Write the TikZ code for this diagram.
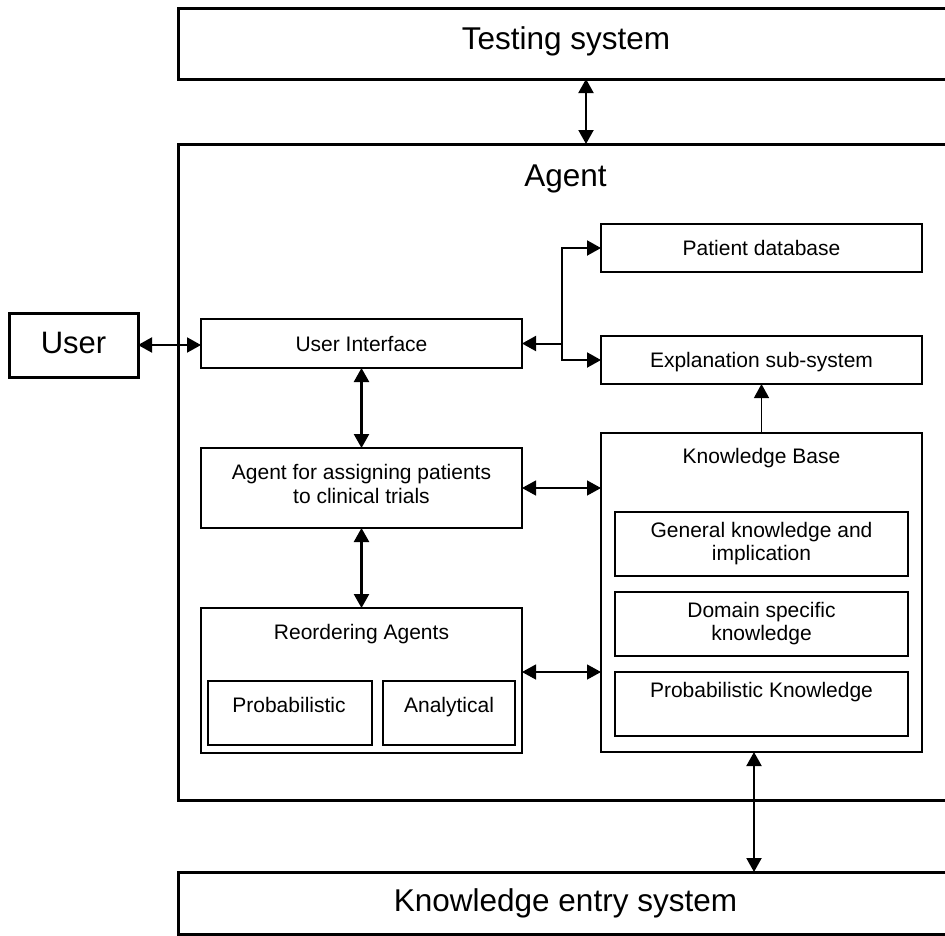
\documentclass[tikz,border=0pt]{standalone}
\usepackage{fontspec}
\setmainfont{Liberation Sans}
\usetikzlibrary{arrows.meta}
\tikzset{
  >={Triangle[length=14pt,width=15pt]},
  bigbox/.style={draw, line width=3pt, inner sep=0pt, outer sep=0pt},
  midbox/.style={draw, line width=2.6pt, inner sep=0pt, outer sep=0pt,
    font=\fontsize{21}{23}\selectfont, text height=15pt, text depth=0pt},
  subbox/.style={draw, line width=1.6pt, inner sep=0pt, outer sep=0pt},
  bigtext/.style={anchor=base, inner sep=0pt, font=\fontsize{31.5}{36}\selectfont},
  smalltext/.style={anchor=base, inner sep=0pt, font=\fontsize{21}{23}\selectfont},
  twoline/.style={anchor=base, inner sep=0pt, font=\fontsize{21}{#1}\selectfont},
  heavyconn/.style={line width=2.4pt},
  midconn/.style={line width=2pt},
  lightconn/.style={line width=1.3pt},
}
\begin{document}
\begin{tikzpicture}[x=1pt, y=-1pt]
\useasboundingbox (0,0) rectangle (945,935);

% outer boxes
\node[bigbox, minimum width=776pt, minimum height=71pt] (testing) at (566,43.5) {};
\node[bigtext] (testingT) at (566,49) {Testing system};
\node[bigbox, minimum width=776pt, minimum height=656pt] (agent) at (566,472) {};
\node[bigtext] (agentT) at (565.5,186) {Agent};
\node[bigbox, minimum width=776pt, minimum height=62pt] (kentry) at (566,903) {};
\node[bigtext] (kentryT) at (565.5,911) {Knowledge entry system};
\node[bigbox, minimum width=129pt, minimum height=64pt,
  font=\fontsize{31}{36}\selectfont, text height=22pt, text depth=5pt] (user) at (73.5,345) {User};

% main inner boxes
\node[midbox, minimum width=321pt, minimum height=49pt] (ui) at (361.5,343.5) {User Interface};
\node[midbox, minimum width=321pt, minimum height=48pt] (pdb) at (761.5,248) {Patient database};
\node[midbox, minimum width=321pt, minimum height=48pt] (expl) at (761.5,360) {Explanation sub-system};
\node[midbox, minimum width=321pt, minimum height=80pt] (agfor) at (361.5,488) {};
\node[twoline=24] (agforT) at (361.5,479) {\begin{tabular}[t]{@{}c@{}}Agent for assigning patients\\to clinical trials\end{tabular}};
\node[midbox, minimum width=321pt, minimum height=145pt] (reord) at (361.5,680.5) {};
\node[smalltext] (reordT) at (361.5,639) {Reordering Agents};
\node[midbox, minimum width=321pt, minimum height=319pt] (kb) at (761.5,592.5) {};
\node[smalltext] (kbT) at (761.5,463) {Knowledge Base};

% sub boxes
\node[subbox, minimum width=164pt, minimum height=64pt] (prob) at (290,713) {};
\node[smalltext] (probT) at (289,712) {Probabilistic};
\node[subbox, minimum width=132pt, minimum height=64pt] (anal) at (449,713) {};
\node[smalltext] (analT) at (449,712) {Analytical};
\node[subbox, minimum width=293pt, minimum height=64pt] (gk) at (761.5,544) {};
\node[twoline=23] (gkT) at (761.5,537) {\begin{tabular}[t]{@{}c@{}}General knowledge and\\implication\end{tabular}};
\node[subbox, minimum width=293pt, minimum height=64pt] (dk) at (761.5,624) {};
\node[twoline=23] (dkT) at (761.5,617) {\begin{tabular}[t]{@{}c@{}}Domain specific\\knowledge\end{tabular}};
\node[subbox, minimum width=293pt, minimum height=64pt] (pk) at (761.5,704) {};
\node[smalltext] (pkT) at (761.5,697) {Probabilistic Knowledge};

% connectors
\draw[midconn, <->] ([xshift=20pt]testing.south) -- ([xshift=20pt]agent.north);
\draw[midconn, <->] (user.east) -- (user.east -| ui.west);
\coordinate (j) at (562,343.5);
\draw[midconn, ->] (j) -- (ui.east);
\draw[midconn, ->] (j) |- (pdb.west);
\draw[midconn, ->] (j) |- (expl.west);
\draw[heavyconn, <->] (ui.south) -- (agfor.north);
\draw[heavyconn, <->] (agfor.south) -- (reord.north);
\draw[lightconn, <->] (agfor.east) -- (agfor.east -| kb.west);
\draw[lightconn, <->] ([yshift=8.5pt]reord.east) -- ([yshift=8.5pt]reord.east -| kb.west);
\draw[lightconn, ->] (kb.north) -- (expl.south);
\draw[midconn, <->] ([xshift=-7.5pt]kb.south) -- ([xshift=-7.5pt]kb.south |- kentry.north);
\end{tikzpicture}
\end{document}
